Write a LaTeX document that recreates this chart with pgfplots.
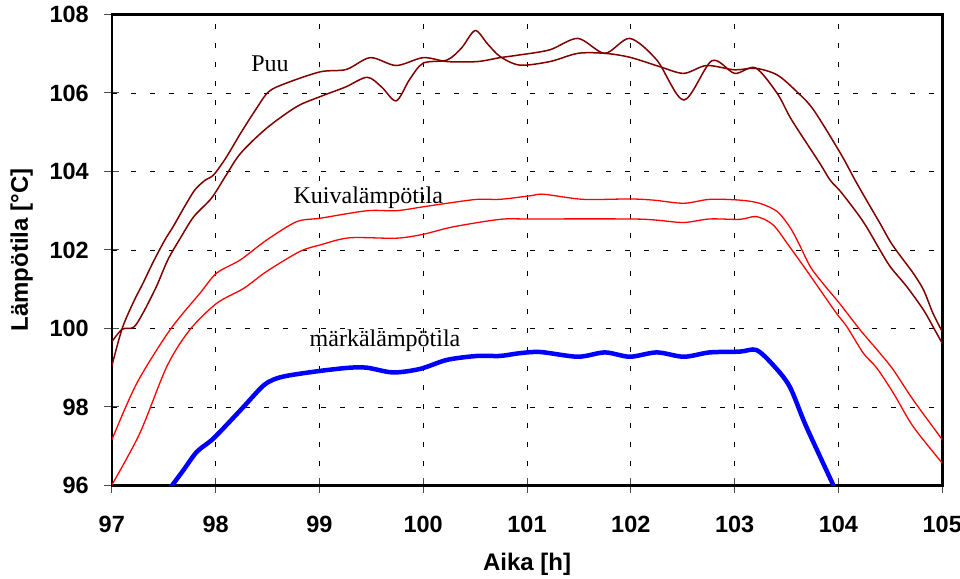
\documentclass[border=0pt]{standalone}
\usepackage{fontspec}
\setmainfont{Liberation Sans}
\newfontfamily\seriffont{Liberation Serif}
\usepackage{pgfplots}
\pgfplotsset{compat=1.18}
\definecolor{puured}{HTML}{800000}
\definecolor{kuivared}{HTML}{FF0000}
\definecolor{markablue}{HTML}{0000FF}

\begin{document}
\begin{tikzpicture}
\begin{axis}[
  scale only axis, width=830.5bp, height=471bp,
  xmin=97, xmax=105, ymin=96, ymax=108,
  xtick={97,98,...,105}, ytick={96,98,...,108},
  axis line style={line width=2.5bp},
  grid=major,
  major grid style={black, line width=0.8bp, dash pattern=on 5bp off 14bp},
  tick align=center, major tick length=15bp,
  major tick style={black!70, line width=1bp},
  xtick pos=bottom, ytick pos=left,
  ticklabel style={font=\bfseries\fontsize{23.5bp}{28bp}\selectfont},
  /pgf/number format/assume math mode=true,
  xticklabel style={anchor=north, yshift=-20bp},
  yticklabel style={anchor=east, xshift=-12bp},
  xlabel={Aika [h]}, ylabel={Lämpötila [°C]},
  label style={font=\bfseries\fontsize{24bp}{28bp}\selectfont},
  xlabel style={at={(axis description cs:0.5,-0.167)}, anchor=center},
  ylabel style={at={(axis description cs:-0.1084,0.5)}, anchor=center},
]
% Puu (upper in rise)
\addplot[puured, line width=1.5bp, smooth] coordinates {
(97.00,99.04) (97.10,100.00) (97.21,100.68) (97.30,101.15) (97.40,101.70)
(97.51,102.25) (97.59,102.59) (97.70,103.10) (97.80,103.53) (97.90,103.78)
(97.98,103.91) (98.10,104.35) (98.24,104.97) (98.38,105.55) (98.51,106.03)
(98.68,106.25) (99.01,106.54) (99.26,106.60) (99.49,106.90) (99.74,106.70)
(100.00,106.90) (100.23,106.80) (100.52,106.80) (100.74,106.90) (100.93,106.97)
(101.22,107.10) (101.49,107.39) (101.75,107.01) (101.99,107.39) (102.25,106.84)
(102.51,105.82) (102.78,106.82) (103.00,106.50) (103.20,106.64) (103.41,105.99)
(103.55,105.31) (103.82,104.21) (103.92,103.78) (104.02,103.49) (104.18,102.94)
(104.27,102.59) (104.40,102.00) (104.50,101.57) (104.66,101.06) (104.82,100.47)
(104.91,100.05) (105.00,99.62)
};
% Puu (second)
\addplot[puured, line width=1.5bp, smooth] coordinates {
(97.00,99.66) (97.10,99.98) (97.21,100.03) (97.30,100.39) (97.43,101.07)
(97.54,101.75) (97.66,102.30) (97.79,102.85) (97.96,103.32) (98.10,103.90)
(98.24,104.46) (98.49,105.10) (98.78,105.65) (99.01,105.91) (99.25,106.15)
(99.46,106.40) (99.60,106.15) (99.74,105.80) (99.87,106.35) (100.00,106.76)
(100.23,106.84) (100.37,107.15) (100.50,107.59) (100.62,107.25) (100.74,106.93)
(100.93,106.71) (101.22,106.80) (101.49,107.01) (101.75,107.01) (101.99,106.91)
(102.28,106.67) (102.51,106.50) (102.73,106.70) (103.00,106.59) (103.20,106.63)
(103.41,106.46) (103.60,106.03) (103.76,105.57) (104.02,104.46) (104.16,103.78)
(104.27,103.27) (104.40,102.68) (104.50,102.21) (104.59,101.87) (104.72,101.41)
(104.82,100.98) (104.91,100.39) (105.00,99.92)
};
% Kuivalampotila upper
\addplot[kuivared, line width=1.3bp, smooth] coordinates {
(97.00,97.16) (97.24,98.60) (97.56,99.96) (97.85,100.90) (98.01,101.41)
(98.24,101.75) (98.49,102.25) (98.78,102.72) (99.01,102.81) (99.46,103.00)
(99.74,103.00) (100.00,103.10) (100.23,103.19) (100.52,103.29) (100.74,103.29)
(101.03,103.38) (101.16,103.42) (101.54,103.29) (101.99,103.30) (102.22,103.27)
(102.51,103.19) (102.76,103.29) (103.05,103.27) (103.24,103.19) (103.41,102.98)
(103.53,102.59) (103.61,102.21) (103.73,101.57) (103.85,101.15) (104.01,100.64)
(104.21,99.96) (104.40,99.37) (104.53,98.94) (104.72,98.18) (104.98,97.24)
(105.00,97.16)
};
% Kuivalampotila lower
\addplot[kuivared, line width=1.3bp, smooth] coordinates {
(97.00,96.01) (97.27,97.33) (97.53,99.03) (97.75,99.96) (98.01,100.64)
(98.27,101.02) (98.49,101.45) (98.81,101.96) (99.01,102.13) (99.29,102.31)
(99.74,102.30) (100.00,102.40) (100.29,102.59) (100.74,102.78) (101.03,102.79)
(101.99,102.79) (102.25,102.76) (102.51,102.70) (102.76,102.79) (103.05,102.78)
(103.21,102.85) (103.37,102.64) (103.53,102.08) (103.69,101.49) (103.79,101.11)
(103.98,100.39) (104.08,100.05) (104.24,99.37) (104.37,98.99) (104.53,98.35)
(104.72,97.50) (105.00,96.57)
};
% Markalampotila
\addplot[markablue, line width=4.5bp, smooth] coordinates {
(97.53,95.85) (97.56,95.93) (97.69,96.39) (97.82,96.86) (97.98,97.20)
(98.24,97.92) (98.45,98.52) (98.56,98.70) (98.70,98.80) (99.01,98.92) (99.29,99.00)
(99.46,99.00) (99.71,98.88) (99.97,98.97) (100.23,99.20) (100.52,99.30)
(100.74,99.30) (100.93,99.37) (101.13,99.40) (101.49,99.28) (101.75,99.39)
(101.99,99.28) (102.25,99.39) (102.51,99.28) (102.76,99.39) (103.05,99.41)
(103.21,99.45) (103.37,99.07) (103.53,98.52) (103.69,97.50) (103.97,95.90)
(103.99,95.80)
};
\node[anchor=base, font=\seriffont\fontsize{24bp}{28bp}\selectfont] at (axis cs:98.524,106.54) {Puu};
\node[anchor=base, font=\seriffont\fontsize{24bp}{28bp}\selectfont] at (axis cs:99.471,103.19) {Kuivalämpötila};
\node[anchor=base, font=\seriffont\fontsize{24bp}{28bp}\selectfont] at (axis cs:99.632,99.54) {märkälämpötila};
\coordinate (bbA) at (axis cs:95.923,93.618);
\coordinate (bbB) at (axis cs:105.171,108.369);
\end{axis}
\pgfresetboundingbox
\path[use as bounding box] (bbA) rectangle (bbB);
\end{tikzpicture}
\end{document}
